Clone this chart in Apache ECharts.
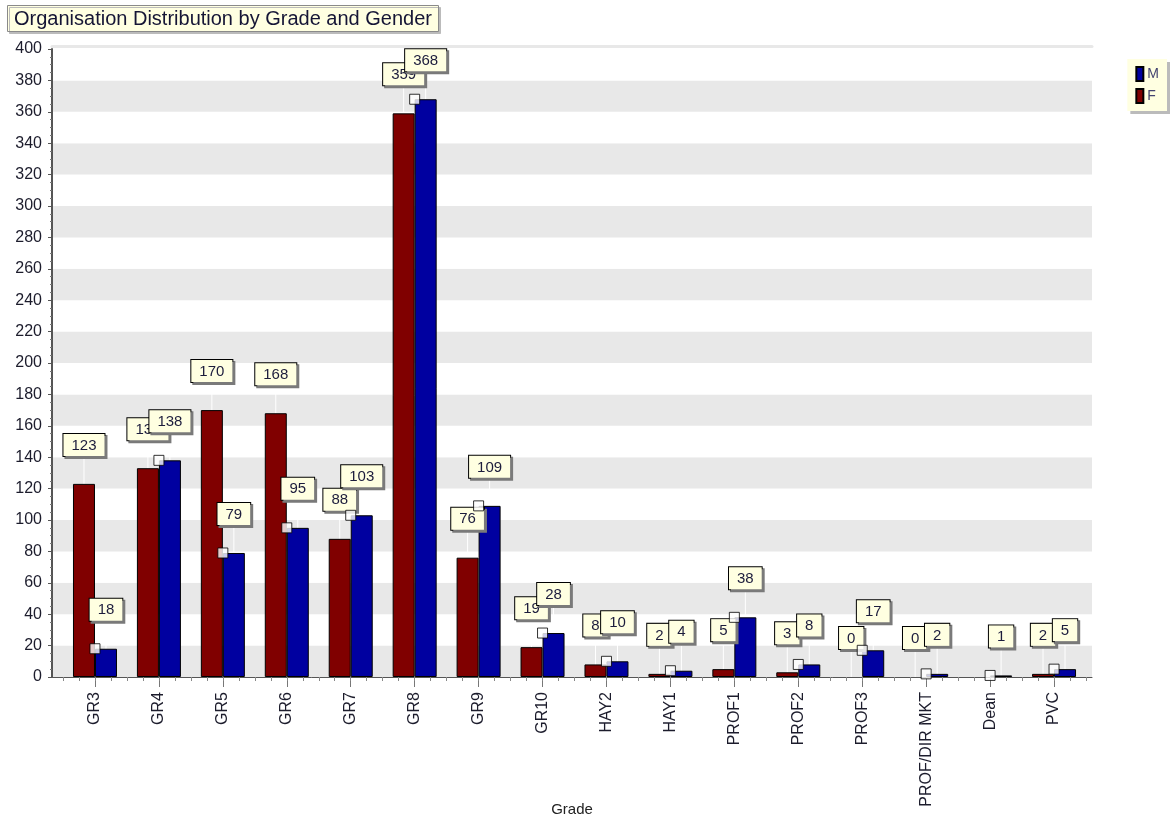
<!DOCTYPE html>
<html>
<head>
<meta charset="utf-8">
<script src="https://cdn.jsdelivr.net/npm/echarts@6/dist/echarts.min.js"></script>
<style>
  html, body { margin: 0; padding: 0; background: #fff; }
  #chart { width: 1171px; height: 819px; }
</style>
</head>
<body>
<div id="chart"></div>
<script>
// grades along the x axis
var grades = ['GR3', 'GR4', 'GR5', 'GR6', 'GR7', 'GR8', 'GR9', 'GR10', 'HAY2', 'HAY1',
  'PROF1', 'PROF2', 'PROF3', 'PROF/DIR MKT', 'Dean', 'PVC'];
// headcount by gender (Dean has no F value)
var female = [123, 133, 170, 168, 88, 359, 76, 19, 8, 2, 5, 3, 0, 0, null, 2];
var male = [18, 138, 79, 95, 103, 368, 109, 28, 10, 4, 38, 8, 17, 2, 1, 5];
var yTicks = { min: 0, max: 400, step: 20 };

var chart = echarts.init(document.getElementById('chart'));
var font = '"Liberation Sans", Arial, sans-serif';

var minorSlots = [];
for (var i = 0; i < grades.length * 4; i++) minorSlots.push('');

// zero bars have no visible outline in the original
function barData(values) {
  return values.map(function (v) {
    if (v === 0) return { value: 0, itemStyle: { borderWidth: 0 } };
    return v;
  });
}

function boxLabel() {
  return {
    show: true,
    position: 'top',
    distance: 2,
    fontFamily: font,
    fontSize: 15,
    color: '#1c1c3c',
    backgroundColor: '#ffffe1',
    borderColor: '#000',
    borderWidth: 1,
    padding: [4, 8, 3, 8],
    shadowColor: '#7a7a7a',
    shadowOffsetX: 2,
    shadowOffsetY: 2,
    shadowBlur: 0
  };
}

var option = {
  backgroundColor: '#fff',
  animation: false,
  title: {
    text: 'Organisation Distribution by Grade and Gender',
    left: 7,
    top: 5,
    padding: [4, 7, 3, 7],
    backgroundColor: '#ffffe1',
    borderColor: '#8a8a8a',
    borderWidth: 1,
    shadowColor: '#bbb',
    shadowOffsetX: 2,
    shadowOffsetY: 2,
    textStyle: { fontFamily: font, fontSize: 20, fontWeight: 'normal', color: '#151535' }
  },
  legend: {
    data: ['M', 'F'],
    orient: 'vertical',
    right: 4,
    top: 59,
    padding: [7, 8, 7, 8],
    itemGap: 6,
    itemWidth: 7,
    itemHeight: 14,
    icon: 'rect',
    backgroundColor: '#ffffe1',
    shadowColor: '#bbb',
    shadowOffsetX: 3,
    shadowOffsetY: 3,
    textStyle: { fontFamily: font, fontSize: 14, color: '#444470', padding: [0, 0, 0, -1] }
  },
  grid: [
    { left: 52, right: 79, top: 49, bottom: 142, outerBoundsMode: 'none' },
    { left: 63, right: 85, top: 49, bottom: 142, outerBoundsMode: 'none' }
  ],
  xAxis: [
    {
      gridIndex: 0,
      type: 'value',
      position: 'bottom',
      min: 0,
      max: 1,
      axisLine: { show: true, lineStyle: { color: '#555', width: 1 } },
      axisTick: { show: false },
      axisLabel: { show: false },
      splitLine: { show: false },
      name: 'Grade',
      nameLocation: 'middle',
      nameGap: 125,
      nameTextStyle: { fontFamily: font, fontSize: 15, color: '#222' }
    },
    {
      gridIndex: 1,
      type: 'category',
      position: 'bottom',
      data: grades,
      axisLine: { show: false },
      axisTick: { show: true, alignWithLabel: true, length: 10, lineStyle: { color: '#777' } },
      axisLabel: {
        rotate: 90,
        margin: 15,
        fontFamily: font,
        fontSize: 16,
        color: '#1c1c2c'
      }
    },
    {
      gridIndex: 1,
      type: 'category',
      position: 'bottom',
      data: minorSlots,
      axisLine: { show: false },
      axisTick: { show: true, length: 4, lineStyle: { color: '#888' } },
      axisLabel: { show: false }
    },
    {
      gridIndex: 0,
      type: 'value',
      position: 'top',
      offset: 3,
      min: 0,
      max: 1,
      axisLine: { show: true, lineStyle: { color: '#e8e8e8', width: 3 } },
      axisTick: { show: false },
      axisLabel: { show: false },
      splitLine: { show: false }
    }
  ],
  yAxis: [
    {
      gridIndex: 0,
      type: 'value',
      min: yTicks.min,
      max: yTicks.max,
      interval: yTicks.step,
      axisLine: { show: true, lineStyle: { color: '#555', width: 2 } },
      axisTick: { show: true, length: 4, lineStyle: { color: '#555' } },
      minorTick: { show: true, splitNumber: 4, length: 2, lineStyle: { color: '#777' } },
      axisLabel: { fontFamily: font, fontSize: 16, color: '#1c1c2c', margin: 10 },
      splitLine: { show: false },
      splitArea: { show: true, areaStyle: { color: ['#e8e8e8', '#ffffff'] } }
    },
    {
      gridIndex: 1,
      type: 'value',
      min: yTicks.min,
      max: yTicks.max,
      interval: yTicks.step,
      show: false
    }
  ],
  series: [
    {
      name: 'F',
      type: 'bar',
      xAxisIndex: 1,
      yAxisIndex: 1,
      data: barData(female),
      barWidth: 22,
      barGap: '0%',
      itemStyle: { color: '#800000', borderColor: '#000', borderWidth: 1 },
      label: boxLabel(),
      labelLayout: { dy: -26 },
      labelLine: { show: true, lineStyle: { color: '#fff', width: 1 } }
    },
    {
      name: 'M',
      type: 'bar',
      xAxisIndex: 1,
      yAxisIndex: 1,
      data: barData(male),
      barWidth: 22,
      barGap: '0%',
      itemStyle: { color: '#0000a0', borderColor: '#000', borderWidth: 1 },
      label: boxLabel(),
      labelLayout: { dy: -26 },
      labelLine: { show: true, lineStyle: { color: '#fff', width: 1 } }
    },
    {
      name: 'M marker',
      type: 'scatter',
      xAxisIndex: 1,
      yAxisIndex: 1,
      data: male,
      symbol: 'rect',
      symbolSize: 10,
      z: 5,
      itemStyle: { color: '#fff', borderColor: '#000', borderWidth: 1 },
      silent: true
    }
  ]
};

chart.setOption(option);
</script>
</body>
</html>
